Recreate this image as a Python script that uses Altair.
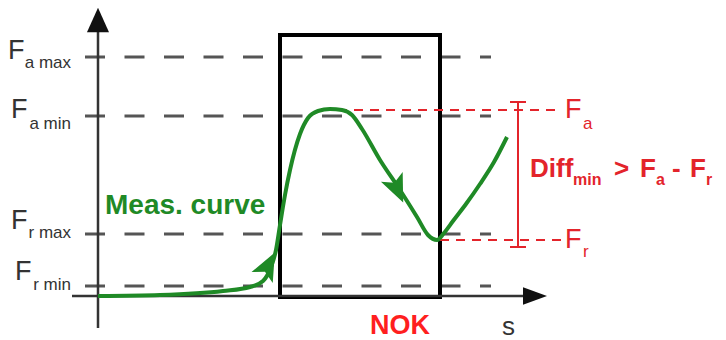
import altair as alt
import pandas as pd

# ---------------- data (diagram units: s to the right, F downward-screen) ----------------
curve_s = [98, 160, 223, 250, 263, 271, 276, 280, 285, 290, 300, 308, 318, 330, 342, 352, 362,
           380, 400, 417, 428, 437, 444, 453, 466, 480, 494, 507]
curve_f = [296, 295, 291, 287, 281, 267, 250, 225, 195, 170, 134, 118, 111, 109, 110, 115, 129,
           160, 190, 217, 235, 240, 233, 221, 204, 184, 162, 137]

level_labels = ["a max", "a min", "r max", "r min"]
level_f = [57, 116, 234, 286]
level_start, level_end = 85, 491

window_s = [280, 440]
window_f = [35, 297]

f_a, f_r = 110, 240          # measured peak / valley
diff_s = 518

axis_origin_s, axis_origin_f = 98, 296

GRAY = "#555555"
DARK = "#333333"
GREEN = "#1f8a26"
RED = "#e3242b"
NOK_RED = "#ff1f1f"
FONT = "Liberation Sans"

XS = alt.Scale(domain=[8, 718], nice=False, zero=False)
YS = alt.Scale(domain=[8, 340], nice=False, zero=False, reverse=True)


def X(f):
    return alt.X(f, type="quantitative", scale=XS, axis=None)


def Y(f):
    return alt.Y(f, type="quantitative", scale=YS, axis=None)


# dashed level lines
levels = alt.Chart(pd.DataFrame({"f": level_f, "a": level_start, "b": level_end})).mark_rule(
    color=GRAY, strokeWidth=3, strokeDash=[20, 19.5]
).encode(x=X("a"), x2="b", y=Y("f"))

# axes
yaxis = alt.Chart(pd.DataFrame({"s": [axis_origin_s], "a": [30], "b": [328]})).mark_rule(
    color=DARK, strokeWidth=2.5
).encode(x=X("s"), y=Y("a"), y2="b")
xaxis = alt.Chart(pd.DataFrame({"f": [axis_origin_f], "a": [72], "b": [525]})).mark_rule(
    color=DARK, strokeWidth=2.5
).encode(y=Y("f"), x=X("a"), x2="b")

axis_heads = alt.Chart(pd.DataFrame({
    "s": [98, 535], "f": [20, 296], "ang": [0, 90], "sz": [600, 576],
    "shape": ["M0,-1L0.9,1L-0.9,1Z", "M0,-1L0.72,1L-0.72,1Z"],
})).mark_point(filled=True, opacity=1, color="#111111", strokeWidth=0).encode(
    x=X("s"), y=Y("f"),
    angle=alt.Angle("ang:Q", scale=None),
    size=alt.Size("sz:Q", scale=None),
    shape=alt.Shape("shape:N", scale=None),
)

# window rectangle
window = alt.Chart(pd.DataFrame({"a": [window_s[0]], "b": [window_s[1]],
                                 "c": [window_f[0]], "d": [window_f[1]]})).mark_rect(
    fill=None, fillOpacity=0, stroke="black", strokeWidth=4
).encode(x=X("a"), x2="b", y=Y("c"), y2="d")

# measurement curve
curve = alt.Chart(pd.DataFrame({"s": curve_s, "f": curve_f, "o": range(len(curve_s))})).mark_line(
    color=GREEN, strokeWidth=4, interpolate="monotone"
).encode(x=X("s"), y=Y("f"), order="o:Q")

curve_heads = alt.Chart(pd.DataFrame({
    "s": [268.5, 397.5], "f": [265, 189.7], "ang": [27, 156],
})).mark_point(filled=True, opacity=1, color=GREEN, strokeWidth=0, size=784,
               shape="M0,-1L0.85,1L0,0.55L-0.85,1Z").encode(
    x=X("s"), y=Y("f"), angle=alt.Angle("ang:Q", scale=None)
)

# red dashed reference lines and bracket
red_dash = alt.Chart(pd.DataFrame({"f": [f_a, f_r], "a": [338, 440], "b": [562, 562]})).mark_rule(
    color=RED, strokeWidth=2, strokeDash=[9, 7]
).encode(x=X("a"), x2="b", y=Y("f"))
bracket = alt.Chart(pd.DataFrame({"s": [diff_s], "a": [102], "b": [247]})).mark_rule(
    color=RED, strokeWidth=2
).encode(x=X("s"), y=Y("a"), y2="b")
caps = alt.Chart(pd.DataFrame({"f": [102, 247], "a": [510, 510], "b": [526, 526]})).mark_rule(
    color=RED, strokeWidth=2
).encode(x=X("a"), x2="b", y=Y("f"))


def text_layer(df, size, weight, color, align="left"):
    return alt.Chart(df).mark_text(
        align=align, baseline="alphabetic", font=FONT, fontSize=size,
        fontWeight=weight, color=color
    ).encode(x=X("s"), y=Y("f"), text="t:N")


ylab_F = text_layer(pd.DataFrame({"t": ["F"] * 4, "s": [8, 11, 11, 15],
                                  "f": [59, 118, 229, 280]}), 27, "normal", DARK)
ylab_sub = text_layer(pd.DataFrame({"t": level_labels, "s": [71] * 4,
                                    "f": [68, 129, 238, 290]}), 17, "normal", DARK, "right")

s_label = text_layer(pd.DataFrame({"t": ["s"], "s": [502], "f": [335]}), 26, "normal", DARK)
meas = text_layer(pd.DataFrame({"t": ["Meas. curve"], "s": [105], "f": [214]}), 28, "bold", GREEN)
nok = text_layer(pd.DataFrame({"t": ["NOK"], "s": [370], "f": [334]}), 27, "bold", NOK_RED)

red_F = text_layer(pd.DataFrame({"t": ["F", "F"], "s": [565, 565], "f": [118, 248]}), 27, "normal", RED)
red_sub = text_layer(pd.DataFrame({"t": ["a", "r"], "s": [583, 583], "f": [129, 257]}), 17, "normal", RED)

diff_big = text_layer(pd.DataFrame({"t": ["Diff", ">", "F", "-", "F"],
                                    "s": [530, 614, 640, 672, 690],
                                    "f": [177, 177, 177, 177, 177]}), 26, "bold", RED)
diff_sub = text_layer(pd.DataFrame({"t": ["min", "a", "r"], "s": [573, 656, 706],
                                    "f": [185, 185, 185]}), 16, "bold", RED)

chart = alt.layer(
    levels, window, red_dash, bracket, caps, yaxis, xaxis, axis_heads,
    curve, curve_heads,
    ylab_F, ylab_sub, s_label, meas, nok, red_F, red_sub, diff_big, diff_sub,
).properties(
    width=710, height=332, padding=0, autosize="none", background="white"
).configure_view(stroke=None)

chart.save("out.html", embed_options={"renderer": "svg", "actions": False})
